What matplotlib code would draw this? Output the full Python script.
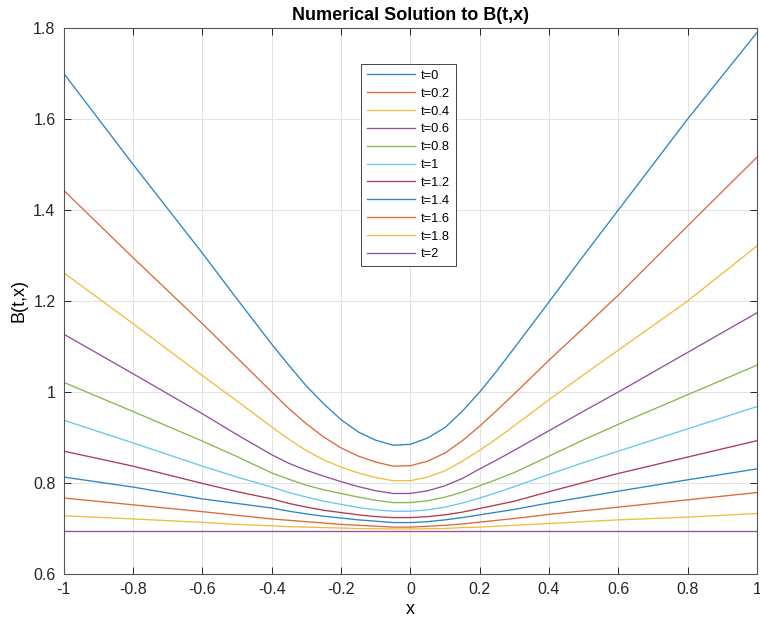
import matplotlib
matplotlib.use("Agg")
import matplotlib.pyplot as plt

plt.rcParams['font.family'] = ['Liberation Sans', 'DejaVu Sans']

# sample positions along x (denser near the minimum)
x = [-1.0, -0.8, -0.6, -0.5, -0.4, -0.35, -0.3, -0.25, -0.2, -0.15, -0.1, -0.05,
     0.0, 0.05, 0.1, 0.15, 0.2, 0.25, 0.3, 0.4, 0.5, 0.6, 0.8, 1.0]

# B(t,x) at each time step
B_t0 = [1.700, 1.500, 1.305, 1.204, 1.105, 1.058, 1.013, 0.974, 0.939, 0.912, 0.894, 0.883,
        0.885, 0.899, 0.922, 0.958, 1.000, 1.047, 1.097, 1.198, 1.300, 1.400, 1.600, 1.790]
B_t02 = [1.443, 1.295, 1.150, 1.075, 1.000, 0.963, 0.930, 0.901, 0.877, 0.859, 0.846, 0.837,
         0.838, 0.848, 0.866, 0.893, 0.925, 0.960, 0.996, 1.070, 1.141, 1.213, 1.365, 1.516]
B_t04 = [1.262, 1.150, 1.036, 0.980, 0.923, 0.896, 0.871, 0.851, 0.835, 0.822, 0.812, 0.805,
         0.805, 0.813, 0.827, 0.848, 0.872, 0.898, 0.926, 0.983, 1.038, 1.092, 1.200, 1.321]
B_t06 = [1.127, 1.040, 0.952, 0.906, 0.862, 0.843, 0.828, 0.815, 0.803, 0.792, 0.783, 0.777,
         0.777, 0.783, 0.794, 0.810, 0.831, 0.851, 0.872, 0.915, 0.958, 1.000, 1.087, 1.174]
B_t08 = [1.021, 0.957, 0.892, 0.858, 0.822, 0.808, 0.795, 0.785, 0.777, 0.769, 0.762, 0.757,
         0.757, 0.761, 0.769, 0.780, 0.794, 0.808, 0.823, 0.859, 0.895, 0.929, 0.994, 1.059]
B_t10 = [0.938, 0.888, 0.837, 0.813, 0.791, 0.779, 0.769, 0.760, 0.753, 0.746, 0.741, 0.738,
         0.738, 0.741, 0.747, 0.756, 0.767, 0.779, 0.792, 0.819, 0.845, 0.870, 0.919, 0.968]
B_t12 = [0.870, 0.837, 0.799, 0.781, 0.765, 0.755, 0.747, 0.740, 0.735, 0.730, 0.726, 0.724,
         0.724, 0.726, 0.730, 0.736, 0.744, 0.752, 0.760, 0.781, 0.801, 0.821, 0.857, 0.893]
B_t14 = [0.813, 0.791, 0.765, 0.755, 0.745, 0.738, 0.732, 0.727, 0.723, 0.719, 0.716, 0.713,
         0.713, 0.715, 0.719, 0.724, 0.730, 0.736, 0.742, 0.756, 0.769, 0.782, 0.807, 0.831]
B_t16 = [0.767, 0.752, 0.737, 0.729, 0.721, 0.718, 0.715, 0.712, 0.709, 0.707, 0.705, 0.703,
         0.703, 0.705, 0.707, 0.710, 0.714, 0.718, 0.722, 0.731, 0.739, 0.747, 0.763, 0.779]
B_t18 = [0.728, 0.721, 0.7135, 0.709, 0.706, 0.704, 0.703, 0.702, 0.701, 0.700, 0.6995, 0.699,
         0.699, 0.6995, 0.700, 0.702, 0.703, 0.705, 0.707, 0.711, 0.715, 0.719, 0.725, 0.733]
B_t20 = [0.6945] * len(x)

series = [B_t0, B_t02, B_t04, B_t06, B_t08, B_t10, B_t12, B_t14, B_t16, B_t18, B_t20]
labels = ['t=0', 't=0.2', 't=0.4', 't=0.6', 't=0.8', 't=1',
          't=1.2', 't=1.4', 't=1.6', 't=1.8', 't=2']

# MATLAB-style line colour order (slightly softened)
colors = ['#2a86c6', '#dc6a3a', '#efbd40', '#93509f', '#88b64f',
          '#68c7f0', '#b13a4f']

fig = plt.figure(figsize=(7.6, 6.25), dpi=100)
ax = fig.add_axes([0.084, 0.0816, 0.912, 0.8736])

for i, y in enumerate(series):
    ax.plot(x, y, color=colors[i % len(colors)], lw=0.95, label=labels[i])

ax.set_xlim(-1, 1)
ax.set_ylim(0.6, 1.8)
ax.set_xticks([-1, -0.8, -0.6, -0.4, -0.2, 0, 0.2, 0.4, 0.6, 0.8, 1])
ax.set_xticklabels(['-1', '-0.8', '-0.6', '-0.4', '-0.2', '0', '0.2', '0.4', '0.6', '0.8', '1'])
ax.set_yticks([0.6, 0.8, 1.0, 1.2, 1.4, 1.6, 1.8])
ax.set_yticklabels(['0.6', '0.8', '1', '1.2', '1.4', '1.6', '1.8'])

ax.grid(True, color='#e3e3e3', lw=0.7)
ax.set_axisbelow(True)
ax.tick_params(direction='in', length=5, width=0.7, colors='#262626',
               labelsize=11.5, top=True, right=True, pad=6)
for s in ax.spines.values():
    s.set_color('#555555')
    s.set_linewidth(0.8)

ax.set_title('Numerical Solution to B(t,x)', fontsize=13, fontweight='bold', pad=6)
ax.set_xlabel('x', fontsize=13, labelpad=3)
ax.set_ylabel('B(t,x)', fontsize=13, labelpad=4)

leg = ax.legend(loc='upper left', bbox_to_anchor=(0.4286, 0.934), borderaxespad=0,
                fontsize=9.3, handlelength=3.7, handletextpad=0.5,
                labelspacing=0.45, borderpad=0.45, fancybox=False, framealpha=1)
leg.get_frame().set_edgecolor('#444444')
leg.get_frame().set_linewidth(0.7)

fig.savefig('out.png', dpi=100)
